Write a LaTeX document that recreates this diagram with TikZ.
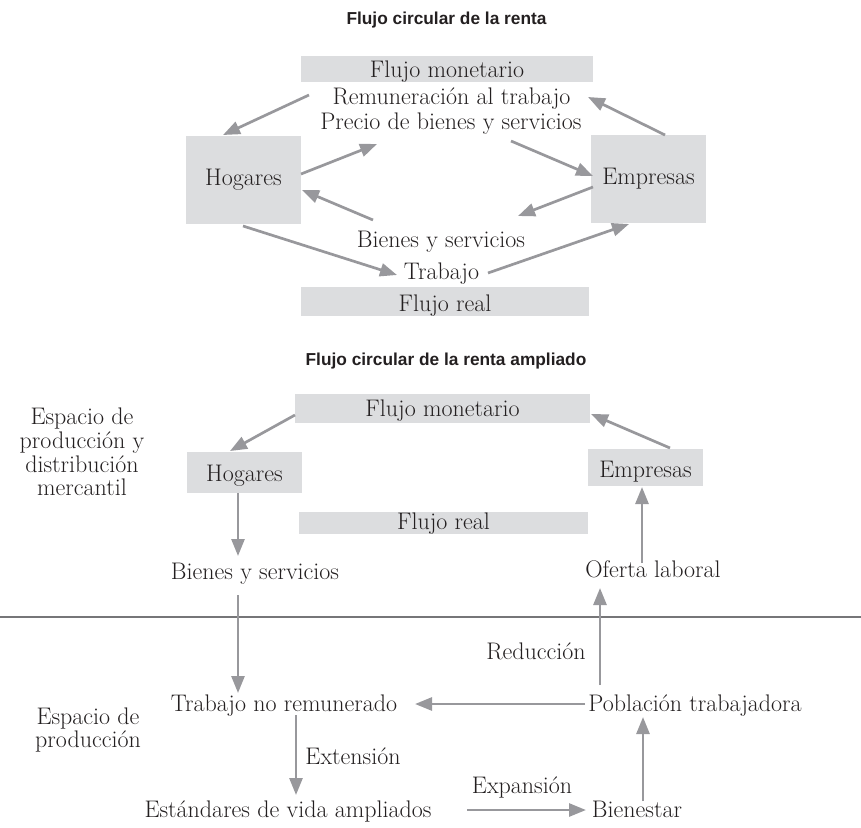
\documentclass[tikz,border=0pt]{standalone}
\usepackage{fontspec}
\newfontfamily\ttlfont{Liberation Sans}
\usetikzlibrary{arrows.meta}
\definecolor{boxgray}{RGB}{220,221,223}
\definecolor{arrgray}{RGB}{152,152,156}
\definecolor{linegray}{RGB}{118,118,120}
\definecolor{ink}{RGB}{35,31,32}
\newcommand{\txtsize}{\fontsize{24}{28}\selectfont}
\begin{document}
\begin{tikzpicture}[x=1pt,y=-1pt,
  box/.style={fill=boxgray, inner sep=0pt, text depth=0pt, text=ink,
    font=\txtsize},
  lbl/.style={anchor=base, inner sep=0pt, text=ink, font=\txtsize},
  ttl/.style={anchor=base, inner sep=0pt, text=ink, font=\ttlfont\bfseries\fontsize{17.3}{20}\selectfont},
  flow/.style={draw=arrgray, line width=2.7pt, -{Triangle[length=17pt,width=13pt]}},
  sep/.style={draw=linegray, line width=2pt}]
\useasboundingbox (0,0) rectangle (861,827);

% ---------- Top diagram ----------
\node[ttl] (t1) at (446.5,24) {Flujo circular de la renta};
\node[box, minimum width=292pt, minimum height=26pt, text height=16pt] (fm1) at (447,69) {Flujo monetario};
\node[lbl] (rem) at (451.5,104) {Remuneración al trabajo};
\node[lbl] (pre) at (451,129.5) {Precio de bienes y servicios};
\node[box, minimum width=115pt, minimum height=88pt, text height=10pt] (hog1) at (243.5,180) {Hogares};
\node[box, minimum width=115pt, minimum height=88pt, text height=10pt] (emp1) at (648.5,179) {Empresas};
\node[lbl] (bys1) at (441,247) {Bienes y servicios};
\node[lbl] (trab) at (441.5,279) {Trabajo};
\node[box, minimum width=288pt, minimum height=29pt, text height=19pt] (fr1) at (445,301.5) {Flujo real};

\coordinate (a1s) at (309,95);  \coordinate (a1e) at (223,135);
\coordinate (a2s) at (301,174); \coordinate (a2e) at (377,144);
\coordinate (a3s) at (511,141); \coordinate (a3e) at (593,176);
\coordinate (a4s) at (665,135); \coordinate (a4e) at (588,97);
\coordinate (a5s) at (593,187); \coordinate (a5e) at (518,216);
\coordinate (a6s) at (373,220); \coordinate (a6e) at (302,190);
\coordinate (a7s) at (243,226); \coordinate (a7e) at (397,275);
\coordinate (a8s) at (488,273); \coordinate (a8e) at (629,224);
\foreach \i in {1,...,8} {\draw[flow] (a\i s) -- (a\i e);}

% ---------- Bottom diagram ----------
\node[ttl] (t2) at (446,365) {Flujo circular de la renta ampliado};
\node[box, minimum width=295pt, minimum height=29pt, text height=17pt] (fm2) at (442.5,408) {Flujo monetario};
\node[box, minimum width=115pt, minimum height=41pt, text height=17pt] (hog2) at (244.5,472.5) {Hogares};
\node[box, minimum width=115pt, minimum height=37pt, text height=19pt] (emp2) at (645.5,467.5) {Empresas};
\node[box, minimum width=289pt, minimum height=22pt, text height=12pt] (fr2) at (443.5,523) {Flujo real};

\node[lbl] (em1) at (82,424) {Espacio de};
\node[lbl] (em2) at (82,448) {producción y};
\node[lbl] (em3) at (82,472) {distribución};
\node[lbl] (em4) at (82,495.5) {mercantil};

\node[lbl] (bys2) at (255,579) {Bienes y servicios};
\node[lbl] (ofl) at (653,577) {Oferta laboral};

\coordinate (sl) at (0,617); \coordinate (sr) at (861,617);
\draw[sep] (sl) -- (sr);

\node[lbl] (red) at (536,659) {Reducción};
\node[lbl] (tnr) at (284,711) {Trabajo no remunerado};
\node[lbl] (pob) at (695,711) {Población trabajadora};
\node[lbl] (ep1) at (88,724) {Espacio de};
\node[lbl] (ep2) at (88,747.5) {producción};
\node[lbl] (ext) at (353,764) {Extensión};
\node[lbl] (exp) at (522,793) {Expansión};
\node[lbl] (est) at (288,817) {Estándares de vida ampliados};
\node[lbl] (bien) at (637,817) {Bienestar};

\coordinate (b1s) at (295,415);  \coordinate (b1e) at (230,451);
\coordinate (b2s) at (670,448);  \coordinate (b2e) at (591,414);
\coordinate (b3s) at (238,493);  \coordinate (b3e) at (238,556);
\coordinate (b4s) at (642,563);  \coordinate (b4e) at (642,487);
\coordinate (b5s) at (238,595);  \coordinate (b5e) at (238,693);
\coordinate (b6s) at (600,685);  \coordinate (b6e) at (600,588);
\coordinate (b7s) at (585,704);  \coordinate (b7e) at (415,704);
\coordinate (b8s) at (296,715);  \coordinate (b8e) at (296,795);
\coordinate (b9s) at (467,810);  \coordinate (b9e) at (586,810);
\coordinate (b10s) at (643,801); \coordinate (b10e) at (643,717);
\foreach \i in {1,...,10} {\draw[flow] (b\i s) -- (b\i e);}
\end{tikzpicture}
\end{document}
